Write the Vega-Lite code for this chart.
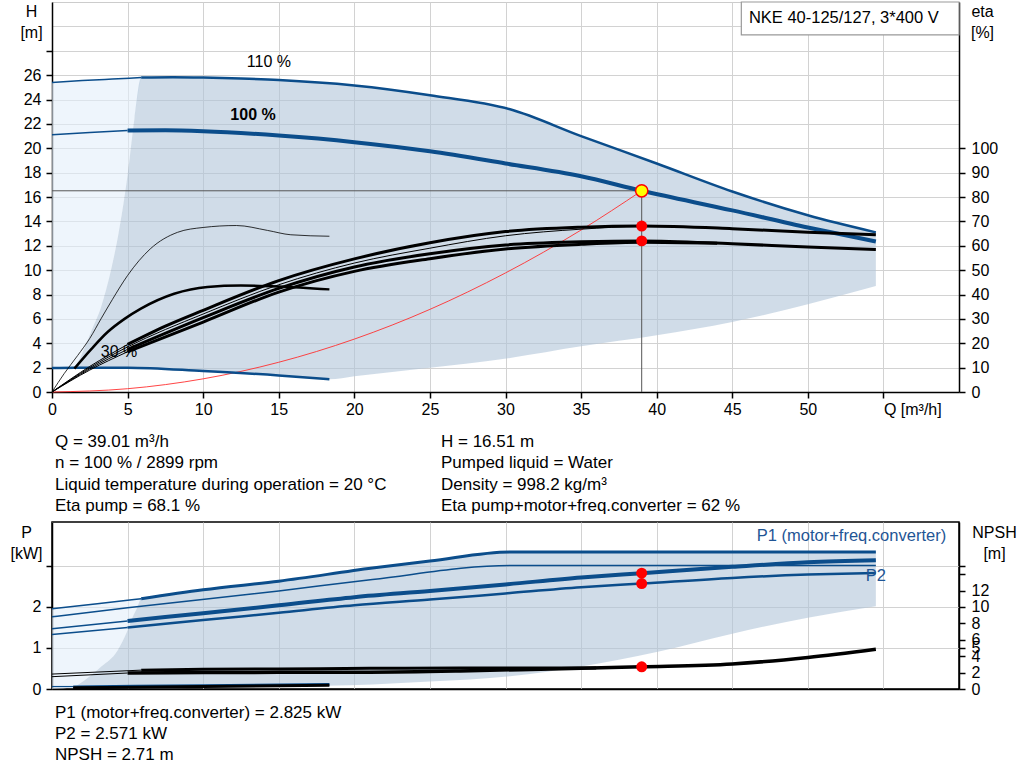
{
  "$schema": "https://vega.github.io/schema/vega-lite/v6.json",
  "padding": {"left": 9, "top": 0, "right": 0, "bottom": 0},
  "autosize": {"type": "pad"},
  "background": "white",
  "spacing": 0,
  "bounds": "flush",
  "config": {
    "font": "Liberation Sans",
    "view": {"stroke": null},
    "axis": {
      "labelFont": "Liberation Sans", "titleFont": "Liberation Sans",
      "labelFontSize": 16, "titleFontSize": 16, "titleFontWeight": "normal",
      "labelColor": "#000", "titleColor": "#000",
      "domainColor": "#000", "domainWidth": 1.5,
      "tickColor": "#000", "tickSize": 6, "tickWidth": 1.5,
      "gridColor": "#d2d2d2", "gridWidth": 1,
      "labelPadding": 5, "labelFlush": false, "labelOverlap": false
    },
    "text": {"font": "Liberation Sans", "fontSize": 16}
  },
  "datasets": {
    "hLight": [
      {"Q": 0, "top": 25.4, "bot": 1.97}, {"Q": 1.5, "top": 25.5, "bot": 2.0}, {"Q": 1.9, "top": 25.53, "bot": 2.9},
      {"Q": 2.6, "top": 25.58, "bot": 5.0}, {"Q": 3.25, "top": 25.63, "bot": 7.0}, {"Q": 3.9, "top": 25.67, "bot": 10.0},
      {"Q": 4.4, "top": 25.7, "bot": 13.0}, {"Q": 5.0, "top": 25.74, "bot": 17.8}, {"Q": 5.45, "top": 25.77, "bot": 22.4},
      {"Q": 5.9, "top": 25.8, "bot": 25.8}
    ],
    "hDark": [
      {"Q": 1.5, "top": 2.0, "bot": 2.0}, {"Q": 1.9, "top": 2.9, "bot": 2.0}, {"Q": 2.6, "top": 5.0, "bot": 2.0},
      {"Q": 3.25, "top": 7.0, "bot": 2.0}, {"Q": 3.9, "top": 10.0, "bot": 2.0}, {"Q": 4.4, "top": 13.0, "bot": 2.0},
      {"Q": 5.0, "top": 17.8, "bot": 2.0}, {"Q": 5.45, "top": 22.4, "bot": 1.99}, {"Q": 5.9, "top": 25.8, "bot": 1.98},
      {"Q": 8, "top": 25.83, "bot": 1.87}, {"Q": 10, "top": 25.8, "bot": 1.72}, {"Q": 12.5, "top": 25.72, "bot": 1.55},
      {"Q": 15, "top": 25.6, "bot": 1.36}, {"Q": 18.35, "top": 25.3, "bot": 1.04}, {"Q": 20, "top": 25.15, "bot": 1.3},
      {"Q": 25, "top": 24.35, "bot": 2.0}, {"Q": 30.3, "top": 23.2, "bot": 2.8}, {"Q": 35, "top": 21.0, "bot": 3.75},
      {"Q": 40, "top": 18.75, "bot": 4.65}, {"Q": 45, "top": 16.45, "bot": 5.75}, {"Q": 50, "top": 14.5, "bot": 7.2},
      {"Q": 54.5, "top": 13.1, "bot": 8.7}
    ],
    "hCurves": [
      {"curve": "110% (min)", "Q": 0, "H": 25.4}, {"curve": "110% (min)", "Q": 2, "H": 25.55}, {"curve": "110% (min)", "Q": 4, "H": 25.68}, {"curve": "110% (min)", "Q": 5.9, "H": 25.8},
      {"curve": "110%", "Q": 5.9, "H": 25.8}, {"curve": "110%", "Q": 8, "H": 25.83}, {"curve": "110%", "Q": 10, "H": 25.8}, {"curve": "110%", "Q": 12.5, "H": 25.72},
      {"curve": "110%", "Q": 15, "H": 25.6}, {"curve": "110%", "Q": 20, "H": 25.15}, {"curve": "110%", "Q": 25, "H": 24.35}, {"curve": "110%", "Q": 30.3, "H": 23.2},
      {"curve": "110%", "Q": 35, "H": 21.0}, {"curve": "110%", "Q": 40, "H": 18.75}, {"curve": "110%", "Q": 45, "H": 16.45}, {"curve": "110%", "Q": 50, "H": 14.5},
      {"curve": "110%", "Q": 54.5, "H": 13.1},
      {"curve": "100% (min)", "Q": 0, "H": 21.1}, {"curve": "100% (min)", "Q": 2.5, "H": 21.3}, {"curve": "100% (min)", "Q": 5, "H": 21.45},
      {"curve": "100%", "Q": 5, "H": 21.45}, {"curve": "100%", "Q": 7.5, "H": 21.47}, {"curve": "100%", "Q": 10, "H": 21.4}, {"curve": "100%", "Q": 15, "H": 21.04},
      {"curve": "100%", "Q": 20, "H": 20.5}, {"curve": "100%", "Q": 25, "H": 19.75}, {"curve": "100%", "Q": 30, "H": 18.75}, {"curve": "100%", "Q": 35, "H": 17.7},
      {"curve": "100%", "Q": 39.01, "H": 16.51}, {"curve": "100%", "Q": 45, "H": 14.9}, {"curve": "100%", "Q": 50, "H": 13.5}, {"curve": "100%", "Q": 54.5, "H": 12.35},
      {"curve": "30%", "Q": 0, "H": 1.97}, {"curve": "30%", "Q": 1.5, "H": 2.0}, {"curve": "30%", "Q": 5, "H": 2.0}, {"curve": "30%", "Q": 10, "H": 1.72},
      {"curve": "30%", "Q": 15, "H": 1.36}, {"curve": "30%", "Q": 18.35, "H": 1.04}
    ],
    "system": [
      {"Q": 0, "H": 0}, {"Q": 5, "H": 0.27}, {"Q": 10, "H": 1.08}, {"Q": 15, "H": 2.44}, {"Q": 20, "H": 4.34},
      {"Q": 25, "H": 6.78}, {"Q": 30, "H": 9.77}, {"Q": 35, "H": 13.29}, {"Q": 39.01, "H": 16.51}
    ],
    "guides": [
      {"Q": 0, "Q2": 39.01, "H": 16.51, "H2": 16.51},
      {"Q": 39.01, "Q2": 39.01, "H": 0, "H2": 16.51}
    ],
    "duty": [{"Q": 39.01, "H": 16.51}],
    "hLabels": [{"Q": 14.35, "H": 27.05, "label": "110 %"}, {"Q": 4.43, "H": 3.28, "label": "30 %"}],
    "hBold": [{"Q": 13.3, "H": 22.7, "label": "100 %"}],
    "box": [{"Q": 45.6, "Q2": 60, "H": 29.3, "H2": 32}],
    "boxText": [{"Q": 46.1, "H": 30.69, "label": "NKE 40-125/127, 3*400 V"}],
    "etaCurves": [
      {"curve": "eta pump 100% (min)", "Q": 0, "eta": 0}, {"curve": "eta pump 100% (min)", "Q": 2.5, "eta": 10.5}, {"curve": "eta pump 100% (min)", "Q": 5, "eta": 19.5},
      {"curve": "eta pump 100%", "Q": 5, "eta": 19.5}, {"curve": "eta pump 100%", "Q": 7.5, "eta": 27}, {"curve": "eta pump 100%", "Q": 10, "eta": 33.5},
      {"curve": "eta pump 100%", "Q": 15, "eta": 45.7}, {"curve": "eta pump 100%", "Q": 20, "eta": 54.6}, {"curve": "eta pump 100%", "Q": 25, "eta": 61.2},
      {"curve": "eta pump 100%", "Q": 30, "eta": 65.8}, {"curve": "eta pump 100%", "Q": 35, "eta": 67.6}, {"curve": "eta pump 100%", "Q": 39.01, "eta": 68.1},
      {"curve": "eta pump 100%", "Q": 45, "eta": 67.0}, {"curve": "eta pump 100%", "Q": 50, "eta": 65.5}, {"curve": "eta pump 100%", "Q": 54.5, "eta": 64.5},
      {"curve": "eta pump 110%", "Q": 0, "eta": 0}, {"curve": "eta pump 110%", "Q": 2.5, "eta": 10}, {"curve": "eta pump 110%", "Q": 5, "eta": 18.5},
      {"curve": "eta pump 110%", "Q": 10, "eta": 32}, {"curve": "eta pump 110%", "Q": 15, "eta": 44}, {"curve": "eta pump 110%", "Q": 20, "eta": 52.9},
      {"curve": "eta pump 110%", "Q": 25, "eta": 59}, {"curve": "eta pump 110%", "Q": 30, "eta": 64.1}, {"curve": "eta pump 110%", "Q": 35, "eta": 66.8},
      {"curve": "eta pump 110%", "Q": 39, "eta": 67.9}, {"curve": "eta pump 110%", "Q": 42, "eta": 67.9},
      {"curve": "eta total 100% (min)", "Q": 0, "eta": 0}, {"curve": "eta total 100% (min)", "Q": 2.5, "eta": 9.5}, {"curve": "eta total 100% (min)", "Q": 5, "eta": 17.5},
      {"curve": "eta total 100%", "Q": 5, "eta": 17.5}, {"curve": "eta total 100%", "Q": 10, "eta": 30.5}, {"curve": "eta total 100%", "Q": 15, "eta": 42.5},
      {"curve": "eta total 100%", "Q": 20, "eta": 51.3}, {"curve": "eta total 100%", "Q": 25, "eta": 56.7}, {"curve": "eta total 100%", "Q": 30, "eta": 60.3},
      {"curve": "eta total 100%", "Q": 35, "eta": 61.6}, {"curve": "eta total 100%", "Q": 39.01, "eta": 62}, {"curve": "eta total 100%", "Q": 45, "eta": 60.8},
      {"curve": "eta total 100%", "Q": 50, "eta": 59.5}, {"curve": "eta total 100%", "Q": 54.5, "eta": 58.5},
      {"curve": "eta total 110% (min)", "Q": 0, "eta": 0}, {"curve": "eta total 110% (min)", "Q": 2.5, "eta": 9}, {"curve": "eta total 110% (min)", "Q": 5, "eta": 16.5},
      {"curve": "eta total 110%", "Q": 5, "eta": 16.5}, {"curve": "eta total 110%", "Q": 10, "eta": 28.7}, {"curve": "eta total 110%", "Q": 15, "eta": 41},
      {"curve": "eta total 110%", "Q": 20, "eta": 49.5}, {"curve": "eta total 110%", "Q": 25, "eta": 54.7}, {"curve": "eta total 110%", "Q": 30, "eta": 58.7},
      {"curve": "eta total 110%", "Q": 35, "eta": 60.6}, {"curve": "eta total 110%", "Q": 39, "eta": 61.4}, {"curve": "eta total 110%", "Q": 44, "eta": 61.0},
      {"curve": "eta pump 30%", "Q": 0, "eta": 0}, {"curve": "eta pump 30%", "Q": 0.8, "eta": 7.5}, {"curve": "eta pump 30%", "Q": 1.7, "eta": 15},
      {"curve": "eta pump 30%", "Q": 2.5, "eta": 22}, {"curve": "eta pump 30%", "Q": 3.24, "eta": 30}, {"curve": "eta pump 30%", "Q": 4, "eta": 38},
      {"curve": "eta pump 30%", "Q": 5, "eta": 47.8}, {"curve": "eta pump 30%", "Q": 6.5, "eta": 58.7}, {"curve": "eta pump 30%", "Q": 8.3, "eta": 65.5},
      {"curve": "eta pump 30%", "Q": 10, "eta": 67.5}, {"curve": "eta pump 30%", "Q": 12.2, "eta": 68.3}, {"curve": "eta pump 30%", "Q": 14.25, "eta": 66.3},
      {"curve": "eta pump 30%", "Q": 15.8, "eta": 64.5}, {"curve": "eta pump 30%", "Q": 18.35, "eta": 63.9},
      {"curve": "eta total 30%", "Q": 1.48, "eta": 9.6}, {"curve": "eta total 30%", "Q": 2.6, "eta": 17.6}, {"curve": "eta total 30%", "Q": 3.68, "eta": 24.6},
      {"curve": "eta total 30%", "Q": 4.8, "eta": 30.0}, {"curve": "eta total 30%", "Q": 5.88, "eta": 34.2}, {"curve": "eta total 30%", "Q": 8.08, "eta": 40.3},
      {"curve": "eta total 30%", "Q": 10.28, "eta": 43.1}, {"curve": "eta total 30%", "Q": 12.5, "eta": 43.7}, {"curve": "eta total 30%", "Q": 15, "eta": 43.3},
      {"curve": "eta total 30%", "Q": 18.35, "eta": 42.1}
    ],
    "etaPoints": [{"Q": 39.01, "eta": 68.1}, {"Q": 39.01, "eta": 62}],
    "pLight": [
      {"Q": 0, "top": 1.96, "bot": 0}, {"Q": 1.48, "top": 2.03, "bot": 0.05}, {"Q": 2.14, "top": 2.06, "bot": 0.21},
      {"Q": 3.24, "top": 2.11, "bot": 0.54}, {"Q": 4.34, "top": 2.15, "bot": 0.94}, {"Q": 5.0, "top": 2.17, "bot": 1.43},
      {"Q": 5.33, "top": 2.18, "bot": 1.75}, {"Q": 5.66, "top": 2.19, "bot": 2.0}, {"Q": 5.9, "top": 2.2, "bot": 2.2}
    ],
    "pDark": [
      {"Q": 1.48, "top": 0.05, "bot": 0.02}, {"Q": 2.14, "top": 0.21, "bot": 0.02}, {"Q": 3.24, "top": 0.54, "bot": 0.01},
      {"Q": 4.34, "top": 0.94, "bot": 0.01}, {"Q": 5.0, "top": 1.43, "bot": 0.01}, {"Q": 5.33, "top": 1.75, "bot": 0.01},
      {"Q": 5.66, "top": 2.0, "bot": 0.01}, {"Q": 5.9, "top": 2.2, "bot": 0.01}, {"Q": 10, "top": 2.42, "bot": 0.03},
      {"Q": 15, "top": 2.63, "bot": 0.06}, {"Q": 21.2, "top": 2.95, "bot": 0.11}, {"Q": 25, "top": 3.12, "bot": 0.18},
      {"Q": 30.3, "top": 3.34, "bot": 0.31}, {"Q": 35, "top": 3.34, "bot": 0.55}, {"Q": 40, "top": 3.34, "bot": 0.9},
      {"Q": 45, "top": 3.34, "bot": 1.35}, {"Q": 50, "top": 3.34, "bot": 1.74}, {"Q": 54.5, "top": 3.34, "bot": 2.02}
    ],
    "pCurves": [
      {"curve": "P1 110% (min)", "Q": 0, "P": 1.96}, {"curve": "P1 110% (min)", "Q": 3, "P": 2.08}, {"curve": "P1 110% (min)", "Q": 5.9, "P": 2.2},
      {"curve": "P1 110%", "Q": 5.9, "P": 2.2}, {"curve": "P1 110%", "Q": 10, "P": 2.42}, {"curve": "P1 110%", "Q": 15, "P": 2.63},
      {"curve": "P1 110%", "Q": 21.2, "P": 2.95}, {"curve": "P1 110%", "Q": 25, "P": 3.12}, {"curve": "P1 110%", "Q": 30.3, "P": 3.34},
      {"curve": "P1 110%", "Q": 54.5, "P": 3.34},
      {"curve": "P2 110%", "Q": 0, "P": 1.76}, {"curve": "P2 110%", "Q": 5, "P": 1.98}, {"curve": "P2 110%", "Q": 15, "P": 2.39},
      {"curve": "P2 110%", "Q": 21.2, "P": 2.67}, {"curve": "P2 110%", "Q": 30.3, "P": 3.01}, {"curve": "P2 110%", "Q": 54.5, "P": 3.01},
      {"curve": "P1 100% (min)", "Q": 0, "P": 1.47}, {"curve": "P1 100% (min)", "Q": 5, "P": 1.66},
      {"curve": "P1 100%", "Q": 5, "P": 1.66}, {"curve": "P1 100%", "Q": 10, "P": 1.85}, {"curve": "P1 100%", "Q": 15, "P": 2.04},
      {"curve": "P1 100%", "Q": 20, "P": 2.24}, {"curve": "P1 100%", "Q": 25, "P": 2.39}, {"curve": "P1 100%", "Q": 30, "P": 2.55},
      {"curve": "P1 100%", "Q": 35, "P": 2.72}, {"curve": "P1 100%", "Q": 39.01, "P": 2.825}, {"curve": "P1 100%", "Q": 45, "P": 2.98},
      {"curve": "P1 100%", "Q": 50, "P": 3.09}, {"curve": "P1 100%", "Q": 54.5, "P": 3.14},
      {"curve": "P2 100% (min)", "Q": 0, "P": 1.33}, {"curve": "P2 100% (min)", "Q": 5, "P": 1.5},
      {"curve": "P2 100%", "Q": 5, "P": 1.5}, {"curve": "P2 100%", "Q": 10, "P": 1.68}, {"curve": "P2 100%", "Q": 15, "P": 1.86},
      {"curve": "P2 100%", "Q": 20, "P": 2.04}, {"curve": "P2 100%", "Q": 25, "P": 2.18}, {"curve": "P2 100%", "Q": 30, "P": 2.33},
      {"curve": "P2 100%", "Q": 35, "P": 2.48}, {"curve": "P2 100%", "Q": 39.01, "P": 2.571}, {"curve": "P2 100%", "Q": 45, "P": 2.71},
      {"curve": "P2 100%", "Q": 50, "P": 2.79}, {"curve": "P2 100%", "Q": 54.5, "P": 2.83},
      {"curve": "P 30% (min)", "Q": 0, "P": 0.06}, {"curve": "P 30% (min)", "Q": 1.4, "P": 0.06},
      {"curve": "P 30%", "Q": 1.4, "P": 0.05}, {"curve": "P 30%", "Q": 10, "P": 0.08}, {"curve": "P 30%", "Q": 18.35, "P": 0.11}
    ],
    "pPoints": [{"Q": 39.01, "P": 2.825}, {"Q": 39.01, "P": 2.571}],
    "pLabelRight": [{"Q": 59.15, "P": 3.73, "label": "P1 (motor+freq.converter)"}],
    "pLabelCenter": [{"Q": 54.5, "P": 2.75, "label": "P2"}],
    "npshCurves": [
      {"curve": "NPSH 100% (min)", "Q": 0, "NPSH": 1.5}, {"curve": "NPSH 100% (min)", "Q": 5, "NPSH": 1.95},
      {"curve": "NPSH 100%", "Q": 5, "NPSH": 1.95}, {"curve": "NPSH 100%", "Q": 10, "NPSH": 2.0}, {"curve": "NPSH 100%", "Q": 15, "NPSH": 2.03},
      {"curve": "NPSH 100%", "Q": 21, "NPSH": 2.05}, {"curve": "NPSH 100%", "Q": 27, "NPSH": 2.2}, {"curve": "NPSH 100%", "Q": 33, "NPSH": 2.45},
      {"curve": "NPSH 100%", "Q": 39.01, "NPSH": 2.71}, {"curve": "NPSH 100%", "Q": 45, "NPSH": 3.05}, {"curve": "NPSH 100%", "Q": 50, "NPSH": 3.85},
      {"curve": "NPSH 100%", "Q": 54.5, "NPSH": 4.85},
      {"curve": "NPSH 110% (min)", "Q": 0, "NPSH": 1.82}, {"curve": "NPSH 110% (min)", "Q": 5.9, "NPSH": 2.3},
      {"curve": "NPSH 110%", "Q": 5.9, "NPSH": 2.3}, {"curve": "NPSH 110%", "Q": 10, "NPSH": 2.4}, {"curve": "NPSH 110%", "Q": 15, "NPSH": 2.45},
      {"curve": "NPSH 110%", "Q": 21, "NPSH": 2.52}, {"curve": "NPSH 110%", "Q": 27, "NPSH": 2.55}, {"curve": "NPSH 110%", "Q": 33, "NPSH": 2.55},
      {"curve": "NPSH 110%", "Q": 36, "NPSH": 2.57},
      {"curve": "NPSH 30%", "Q": 1.4, "NPSH": 0.15}, {"curve": "NPSH 30%", "Q": 10, "NPSH": 0.3}, {"curve": "NPSH 30%", "Q": 18.35, "NPSH": 0.45}
    ],
    "npshPoint": [{"Q": 39.01, "NPSH": 2.71}],
    "info1": [
      {"column": "left", "line": 1, "text": "Q = 39.01 m³/h"},
      {"column": "left", "line": 2, "text": "n = 100 % / 2899 rpm"},
      {"column": "left", "line": 3, "text": "Liquid temperature during operation = 20 °C"},
      {"column": "left", "line": 4, "text": "Eta pump = 68.1 %"},
      {"column": "right", "line": 1, "text": "H = 16.51 m"},
      {"column": "right", "line": 2, "text": "Pumped liquid = Water"},
      {"column": "right", "line": 3, "text": "Density = 998.2 kg/m³"},
      {"column": "right", "line": 4, "text": "Eta pump+motor+freq.converter = 62 %"}
    ],
    "info2": [
      {"column": "left", "line": 1, "text": "P1 (motor+freq.converter) = 2.825 kW"},
      {"column": "left", "line": 2, "text": "P2 = 2.571 kW"},
      {"column": "left", "line": 3, "text": "NPSH = 2.71 m"}
    ]
  },
  "vconcat": [
    {
      "width": 907,
      "height": 390,
      "view": {"stroke": "#cccccc"},
      "encoding": {
        "x": {
          "field": "Q", "type": "quantitative",
          "scale": {"domain": [0, 60], "nice": false, "zero": false},
          "axis": {
            "values": [0, 5, 10, 15, 20, 25, 30, 35, 40, 45, 50, 55],
            "title": null, "grid": true, "labelPadding": 3,
            "labelExpr": "datum.value == 55 ? 'Q [m³/h]' : datum.label",
            "labelAlign": {"condition": {"test": "datum.value == 55", "value": "left"}, "value": "center"}
          }
        }
      },
      "layer": [
        {
          "data": {"name": "hLight"},
          "mark": {"type": "area", "color": "#e3eefa", "opacity": 0.6, "interpolate": "monotone"},
          "encoding": {
            "y": {
              "field": "top", "type": "quantitative",
              "scale": {"domain": [0, 32], "nice": false},
              "axis": {
                "orient": "left",
                "values": [0, 2, 4, 6, 8, 10, 12, 14, 16, 18, 20, 22, 24, 26, 28, 30],
                "labelExpr": "datum.value <= 26 ? datum.label : ''",
                "tickOpacity": {"condition": {"test": "datum.value > 28", "value": 0}, "value": 1},
                "title": ["H", "[m]"], "titleAngle": 0, "titleAlign": "center", "titleBaseline": "top",
                "titleX": -21, "titleY": 1, "titleLineHeight": 21, "grid": true, "labelPadding": 5
              }
            },
            "y2": {"field": "bot"}
          }
        },
        {
          "data": {"name": "hDark"},
          "mark": {"type": "area", "color": "#b1c5d9", "opacity": 0.6, "interpolate": "monotone"},
          "encoding": {
            "y": {"field": "top", "type": "quantitative", "scale": {"domain": [0, 32], "nice": false}, "axis": null},
            "y2": {"field": "bot"}
          }
        },
        {
          "data": {"name": "guides"},
          "mark": {"type": "rule", "color": "#555555", "strokeWidth": 1},
          "encoding": {
            "x2": {"field": "Q2"},
            "y": {"field": "H", "type": "quantitative", "scale": {"domain": [0, 32], "nice": false}, "axis": null},
            "y2": {"field": "H2"}
          }
        },
        {
          "data": {"name": "system"},
          "mark": {"type": "line", "color": "#ff3030", "strokeWidth": 0.9, "interpolate": "monotone"},
          "encoding": {
            "y": {"field": "H", "type": "quantitative", "scale": {"domain": [0, 32], "nice": false}, "axis": null}
          }
        },
        {
          "data": {"name": "hCurves"},
          "mark": {"type": "line", "color": "#0b4d8b", "interpolate": "monotone"},
          "encoding": {
            "y": {"field": "H", "type": "quantitative", "scale": {"domain": [0, 32], "nice": false}, "axis": null},
            "strokeWidth": {
              "field": "curve", "type": "nominal",
              "scale": {"type": "ordinal", "domain": ["110% (min)", "110%", "100% (min)", "100%", "30%"], "range": [1.5, 2.5, 1.5, 4, 2.5]},
              "legend": null
            }
          }
        },
        {
          "data": {"name": "etaCurves"},
          "mark": {"type": "line", "color": "#000000", "interpolate": "monotone"},
          "encoding": {
            "y": {
              "field": "eta", "type": "quantitative",
              "scale": {"domain": [0, 160], "nice": false},
              "axis": {
                "orient": "right", "values": [0, 10, 20, 30, 40, 50, 60, 70, 80, 90, 100], "grid": false,
                "title": ["eta", "[%]"], "titleAngle": 0, "titleAlign": "center", "titleBaseline": "top",
                "titleX": 23, "titleY": 1, "titleLineHeight": 21, "labelPadding": 6
              }
            },
            "strokeWidth": {
              "field": "curve", "type": "nominal",
              "scale": {
                "type": "ordinal",
                "domain": ["eta pump 100% (min)", "eta pump 100%", "eta pump 110%", "eta total 100% (min)", "eta total 100%", "eta total 110% (min)", "eta total 110%", "eta pump 30%", "eta total 30%"],
                "range": [1, 3, 1, 1, 3, 1, 3, 0.8, 2.5]
              },
              "legend": null
            }
          }
        },
        {
          "data": {"name": "hLabels"},
          "mark": {"type": "text", "fontSize": 16, "align": "center", "baseline": "middle", "color": "#000"},
          "encoding": {
            "y": {"field": "H", "type": "quantitative", "scale": {"domain": [0, 32], "nice": false}, "axis": null},
            "text": {"field": "label"}
          }
        },
        {
          "data": {"name": "hBold"},
          "mark": {"type": "text", "fontSize": 16, "fontWeight": "bold", "align": "center", "baseline": "middle", "color": "#000"},
          "encoding": {
            "y": {"field": "H", "type": "quantitative", "scale": {"domain": [0, 32], "nice": false}, "axis": null},
            "text": {"field": "label"}
          }
        },
        {
          "data": {"name": "box"},
          "mark": {"type": "rect", "fill": "#ffffff", "stroke": "#999999", "strokeWidth": 1.2},
          "encoding": {
            "x2": {"field": "Q2"},
            "y": {"field": "H", "type": "quantitative", "scale": {"domain": [0, 32], "nice": false}, "axis": null},
            "y2": {"field": "H2"}
          }
        },
        {
          "data": {"name": "boxText"},
          "mark": {"type": "text", "fontSize": 16.5, "align": "left", "baseline": "middle", "color": "#000"},
          "encoding": {
            "y": {"field": "H", "type": "quantitative", "scale": {"domain": [0, 32], "nice": false}, "axis": null},
            "text": {"field": "label"}
          }
        },
        {
          "data": {"name": "etaPoints"},
          "mark": {"type": "circle", "color": "#ff0000", "size": 120, "opacity": 1},
          "encoding": {
            "y": {"field": "eta", "type": "quantitative", "scale": {"domain": [0, 160], "nice": false}, "axis": null}
          }
        },
        {
          "data": {"name": "duty"},
          "mark": {"type": "point", "filled": true, "fill": "#ffff00", "stroke": "#ff0000", "strokeWidth": 1.5, "size": 150, "opacity": 1},
          "encoding": {
            "y": {"field": "H", "type": "quantitative", "scale": {"domain": [0, 32], "nice": false}, "axis": null}
          }
        }
      ],
      "resolve": {"scale": {"y": "independent", "strokeWidth": "independent"}, "axis": {"y": "independent"}}
    },
    {
      "width": 907,
      "height": 130,
      "view": {"stroke": null},
      "data": {"name": "info1"},
      "mark": {"type": "text", "align": "left", "baseline": "middle", "fontSize": 17, "color": "#000"},
      "encoding": {
        "x": {"field": "column", "type": "ordinal", "scale": {"type": "point", "domain": ["left", "right"], "range": [3, 389], "padding": 0}, "axis": null},
        "y": {"field": "line", "type": "ordinal", "scale": {"type": "point", "domain": [1, 2, 3, 4], "range": [50, 114], "padding": 0}, "axis": null},
        "text": {"field": "text"}
      }
    },
    {
      "width": 907,
      "height": 167,
      "view": {"stroke": "#000000", "strokeWidth": 1.5},
      "encoding": {
        "x": {
          "field": "Q", "type": "quantitative",
          "scale": {"domain": [0, 60], "nice": false, "zero": false},
          "axis": {"values": [0, 5, 10, 15, 20, 25, 30, 35, 40, 45, 50, 55], "title": null, "grid": true, "labels": false, "ticks": false}
        }
      },
      "layer": [
        {
          "data": {"name": "pLight"},
          "mark": {"type": "area", "color": "#e3eefa", "opacity": 0.6, "interpolate": "monotone"},
          "encoding": {
            "y": {
              "field": "top", "type": "quantitative",
              "scale": {"domain": [0, 4.073], "nice": false},
              "axis": {
                "orient": "left",
                "values": [0, 1, 2, 3],
                "labelExpr": "datum.value <= 2 ? datum.label : ''",
                "title": ["P", "[kW]"], "titleAngle": 0, "titleAlign": "center", "titleBaseline": "top",
                "titleX": -26, "titleY": 2, "titleLineHeight": 21, "grid": true, "labelPadding": 5
              }
            },
            "y2": {"field": "bot"}
          }
        },
        {
          "data": {"name": "pDark"},
          "mark": {"type": "area", "color": "#b1c5d9", "opacity": 0.6, "interpolate": "monotone"},
          "encoding": {
            "y": {"field": "top", "type": "quantitative", "scale": {"domain": [0, 4.073], "nice": false}, "axis": null},
            "y2": {"field": "bot"}
          }
        },
        {
          "data": {"name": "pCurves"},
          "mark": {"type": "line", "color": "#0b4d8b", "interpolate": "monotone"},
          "encoding": {
            "y": {"field": "P", "type": "quantitative", "scale": {"domain": [0, 4.073], "nice": false}, "axis": null},
            "strokeWidth": {
              "field": "curve", "type": "nominal",
              "scale": {
                "type": "ordinal",
                "domain": ["P1 110% (min)", "P1 110%", "P2 110%", "P1 100% (min)", "P1 100%", "P2 100% (min)", "P2 100%", "P 30% (min)", "P 30%"],
                "range": [1.5, 3, 1.5, 1.5, 4, 1.5, 2.5, 1.2, 3]
              },
              "legend": null
            }
          }
        },
        {
          "data": {"name": "npshCurves"},
          "mark": {"type": "line", "color": "#000000", "interpolate": "monotone"},
          "encoding": {
            "y": {
              "field": "NPSH", "type": "quantitative",
              "scale": {"domain": [0, 20.365], "nice": false},
              "axis": {
                "orient": "right", "values": [0, 2, 4, 5, 6, 8, 10, 12, 14, 15], "grid": false,
                "labelExpr": "datum.value <= 12 ? datum.label : ''",
                "title": ["NPSH", "[m]"], "titleAngle": 0, "titleAlign": "center", "titleBaseline": "top",
                "titleX": 35, "titleY": 2, "titleLineHeight": 21, "labelPadding": 6
              }
            },
            "strokeWidth": {
              "field": "curve", "type": "nominal",
              "scale": {
                "type": "ordinal",
                "domain": ["NPSH 100% (min)", "NPSH 100%", "NPSH 110% (min)", "NPSH 110%", "NPSH 30%"],
                "range": [1, 3.5, 1, 3, 3]
              },
              "legend": null
            }
          }
        },
        {
          "data": {"name": "pLabelRight"},
          "mark": {"type": "text", "fontSize": 16.5, "align": "right", "baseline": "middle", "color": "#1f5595"},
          "encoding": {
            "y": {"field": "P", "type": "quantitative", "scale": {"domain": [0, 4.073], "nice": false}, "axis": null},
            "text": {"field": "label"}
          }
        },
        {
          "data": {"name": "pLabelCenter"},
          "mark": {"type": "text", "fontSize": 16.5, "align": "center", "baseline": "middle", "color": "#1f5595"},
          "encoding": {
            "y": {"field": "P", "type": "quantitative", "scale": {"domain": [0, 4.073], "nice": false}, "axis": null},
            "text": {"field": "label"}
          }
        },
        {
          "data": {"name": "pPoints"},
          "mark": {"type": "circle", "color": "#ff0000", "size": 120, "opacity": 1},
          "encoding": {
            "y": {"field": "P", "type": "quantitative", "scale": {"domain": [0, 4.073], "nice": false}, "axis": null}
          }
        },
        {
          "data": {"name": "npshPoint"},
          "mark": {"type": "circle", "color": "#ff0000", "size": 120, "opacity": 1},
          "encoding": {
            "y": {"field": "NPSH", "type": "quantitative", "scale": {"domain": [0, 20.365], "nice": false}, "axis": null}
          }
        }
      ],
      "resolve": {"scale": {"y": "independent", "strokeWidth": "independent"}, "axis": {"y": "independent"}}
    },
    {
      "width": 907,
      "height": 94,
      "view": {"stroke": null},
      "data": {"name": "info2"},
      "mark": {"type": "text", "align": "left", "baseline": "middle", "fontSize": 17, "color": "#000"},
      "encoding": {
        "x": {"field": "column", "type": "ordinal", "scale": {"type": "point", "domain": ["left", "right"], "range": [3, 389], "padding": 0}, "axis": null},
        "y": {"field": "line", "type": "ordinal", "scale": {"type": "point", "domain": [1, 2, 3], "range": [24, 66], "padding": 0}, "axis": null},
        "text": {"field": "text"}
      }
    }
  ]
}
